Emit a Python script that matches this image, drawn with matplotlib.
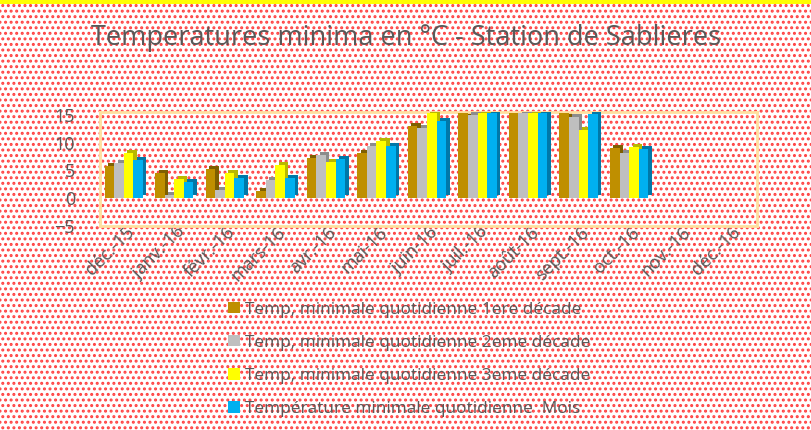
import matplotlib
matplotlib.use('Agg')
import matplotlib.pyplot as plt
import matplotlib.transforms as mtransforms
from matplotlib.patches import Rectangle
import numpy as np

plt.rcParams['font.family'] = ['Open Sans', 'DejaVu Sans']
plt.rcParams['hatch.linewidth'] = 1.4

# données
mois = ['déc.-15', 'janv.-16', 'févr.-16', 'mars-16', 'avr.-16', 'mai-16', 'juin-16',
        'juil.-16', 'août-16', 'sept.-16', 'oct.-16', 'nov.-16', 'déc.-16']
dec1 = [5.7, 4.5, 5.2, 1.3, 7.2, 8.2, 13.0, 15.4, 15.4, 15.4, 9.0, np.nan, np.nan]
dec2 = [6.4, 0.6, 1.5, 3.3, 7.8, 9.3, 12.6, 14.9, 15.4, 14.6, 8.2, np.nan, np.nan]
dec3 = [8.1, 3.5, 4.5, 5.9, 6.5, 10.3, 15.4, 15.4, 15.4, 12.2, 9.2, np.nan, np.nan]
mois_moy = [6.8, 3.0, 3.7, 3.6, 7.1, 9.3, 13.9, 15.4, 15.4, 15.1, 8.9, np.nan, np.nan]

series = [
    ('Temp, minimale quotidienne 1ere décade', dec1, '#BF8F00', '#7F5F00'),
    ('Temp, minimale quotidienne 2eme décade', dec2, '#BFBFBF', '#8C8C8C'),
    ('Temp, minimale quotidienne 3eme décade', dec3, '#FFFF00', '#B8B800'),
    ('Température minimale quotidienne  Mois', mois_moy, '#00B0F0', '#0078A8'),
]

fig = plt.figure(figsize=(8.12, 4.30), dpi=100)
bg = Rectangle((0, 0), 1, 1, transform=fig.transFigure, facecolor='white',
               hatch='...', edgecolor='#FF4040', linewidth=0, zorder=-10)
fig.patches.append(bg)
fig.patches.append(Rectangle((0, 1 - 4 / 430), 1, 4 / 430, transform=fig.transFigure,
                             facecolor='#FFFF00', edgecolor='none', zorder=-5))

ax = fig.add_axes([100 / 812, 1 - 226 / 430, 657 / 812, 114 / 430])
ax.set_facecolor('none')

x = np.arange(len(mois))
w = 0.19
shift = mtransforms.ScaledTranslation(0.035, 0.03, fig.dpi_scale_trans)
for i, (nom, vals, c, cd) in enumerate(series):
    pos = x + (i - 1.5) * w - 0.03
    ax.bar(pos, vals, w, color=cd, transform=ax.transData + shift, zorder=2 + 2 * i)
    ax.bar(pos, vals, w, color=c, label=nom, zorder=3 + 2 * i)

ax.set_xlim(-0.5, len(mois) - 0.5)
ax.set_ylim(-5, 15.5)
ax.set_yticks([-5, 0, 5, 10, 15])
ax.set_xticks(x)
ax.set_xticklabels(mois, rotation=45, ha='right', rotation_mode='anchor')
ax.tick_params(length=0, colors='#595959', labelsize=13)
ax.tick_params(axis='y', pad=18)
ax.tick_params(axis='x', pad=-2)
for s in ax.spines.values():
    s.set_color('#FFE0A0')
    s.set_linewidth(2)

fig.text(0.5, 0.912, 'Temperatures minima en °C - Station de Sablieres',
         ha='center', va='center', fontsize=19.5, color='#595959')

h, l = ax.get_legend_handles_labels()
fig.legend(h, l, loc='upper left', bbox_to_anchor=(213 / 812, 1 - 286 / 430),
           frameon=False, fontsize=12.4, labelcolor='#595959', handlelength=0.65,
           handleheight=0.65, handletextpad=0.3, labelspacing=1.0)

fig.savefig('out.png', dpi=100)
